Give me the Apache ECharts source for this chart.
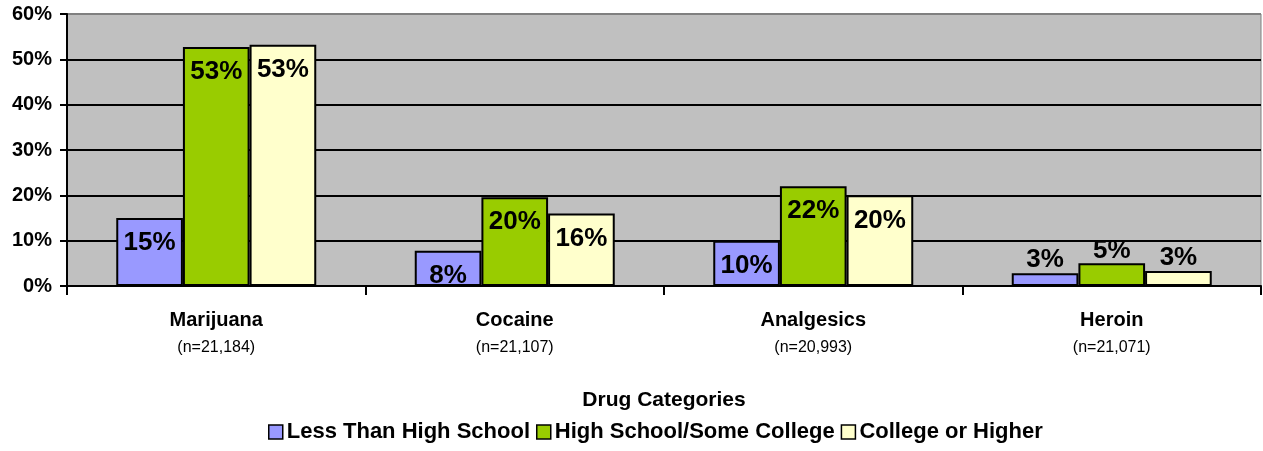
<!DOCTYPE html>
<html>
<head>
<meta charset="utf-8">
<script src="https://cdn.jsdelivr.net/npm/echarts@6/dist/echarts.min.js"></script>
<style>
  html, body { margin: 0; padding: 0; background: #fff; }
  #main { width: 1263px; height: 451px; }
</style>
</head>
<body>
<div id="main"></div>
<script>
var categories = ['Marijuana', 'Cocaine', 'Analgesics', 'Heroin'];
var sampleSizes = ['(n=21,184)', '(n=21,107)', '(n=20,993)', '(n=21,071)'];
var seriesNames = ['Less Than High School', 'High School/Some College', 'College or Higher'];
var lessThanHS = [15.0, 7.8, 10.0, 2.8];
var hsSomeCollege = [52.7, 19.6, 22.0, 5.0];
var collegeHigher = [53.2, 16.0, 20.0, 3.3];
var yTicks = [0, 10, 20, 30, 40, 50, 60];

var colors = ['#9999FF', '#99CC00', '#FFFFCC'];
var labelFont = 'Liberation Sans, Arial, sans-serif';

function makeData(values) {
    return values.map(function (v) {
        var small = v < 6;
        return {
            value: v,
            label: {
                position: small ? 'top' : 'insideTop',
                distance: small ? 0 : 12
            }
        };
    });
}

var dom = document.getElementById('main');
var myChart = echarts.init(dom);

var seriesValues = [lessThanHS, hsSomeCollege, collegeHigher];
var series = seriesValues.map(function (vals, i) {
    return {
        name: seriesNames[i],
        type: 'bar',
        barGap: '0%',
        barCategoryGap: '33%',
        data: makeData(vals),
        itemStyle: {
            color: colors[i],
            borderColor: '#000',
            borderWidth: 2
        },
        label: {
            show: true,
            formatter: function (p) { return Math.round(p.value) + '%'; },
            fontFamily: labelFont,
            fontWeight: 'bold',
            fontSize: 26,
            color: '#000'
        }
    };
});

var option = {
    animation: false,
    textStyle: { fontFamily: labelFont },
    grid: {
        left: 67,
        right: 2,
        top: 14,
        bottom: 165,
        show: true,
        backgroundColor: '#C0C0C0',
        borderColor: '#808080',
        borderWidth: 1
    },
    legend: {
        bottom: 3,
        left: 263,
        itemGap: 6,
        itemWidth: 14,
        itemHeight: 14,
        icon: 'rect',
        data: seriesNames.map(function (n, i) {
            return { name: n, itemStyle: { color: colors[i], borderColor: '#000', borderWidth: 1.5 } };
        }),
        textStyle: {
            fontFamily: labelFont,
            fontWeight: 'bold',
            fontSize: 22,
            color: '#000',
            padding: [0, 0, 0, -1]
        }
    },
    xAxis: {
        type: 'category',
        data: categories,
        name: 'Drug Categories',
        nameLocation: 'middle',
        nameGap: 104,
        nameTextStyle: {
            fontFamily: labelFont,
            fontWeight: 'bold',
            fontSize: 21,
            color: '#000'
        },
        axisLine: { lineStyle: { color: '#000', width: 2 } },
        axisTick: { show: true, length: 9, lineStyle: { color: '#000', width: 2 } },
        axisLabel: {
            margin: 20,
            formatter: function (v, idx) {
                return '{a|' + v + '}\n{b|' + sampleSizes[idx] + '}';
            },
            rich: {
                a: { fontFamily: labelFont, fontWeight: 'bold', fontSize: 20, color: '#000', lineHeight: 28 },
                b: { fontFamily: labelFont, fontSize: 16, color: '#000', lineHeight: 28 }
            }
        }
    },
    yAxis: {
        type: 'value',
        min: 0,
        max: 60,
        interval: 10,
        axisLine: { show: true, lineStyle: { color: '#000', width: 2 } },
        axisTick: { show: true, length: 7, lineStyle: { color: '#000', width: 2 } },
        splitLine: {
            lineStyle: {
                color: ['#000', '#000', '#000', '#000', '#000', '#000', '#808080'],
                width: 2
            }
        },
        axisLabel: {
            margin: 15,
            formatter: function (v) { return yTicks.indexOf(v) >= 0 ? v + '%' : ''; },
            fontFamily: labelFont,
            fontWeight: 'bold',
            fontSize: 20,
            color: '#000'
        }
    },
    series: series
};

if (option && typeof option === 'object') {
    myChart.setOption(option, true);
}

window.addEventListener('resize', function () {
    myChart.resize();
});
</script>
</body>
</html>
